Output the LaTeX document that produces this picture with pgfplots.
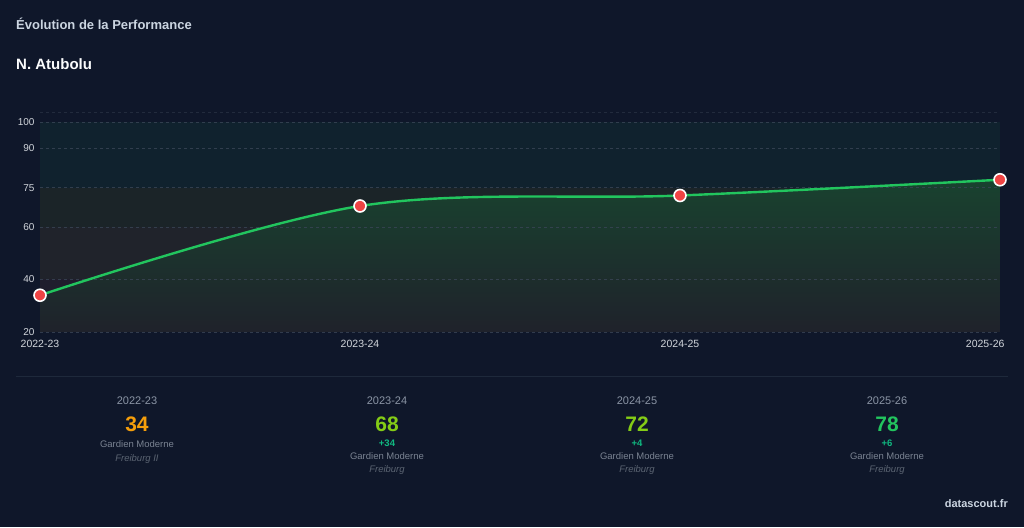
\documentclass[border=0pt]{standalone}
\usepackage{pgfplots}
\pgfplotsset{compat=1.18}
\usepackage{fontspec}
\setmainfont{Liberation Sans}
\definecolor{bg}{HTML}{0F172A}
\definecolor{sep}{HTML}{1E293B}
\definecolor{lgreen}{HTML}{22C55E}
\definecolor{mred}{HTML}{EF4444}
\definecolor{orng}{HTML}{F59E0B}
\definecolor{lime}{HTML}{84CC16}
\definecolor{teal}{HTML}{10B981}
\definecolor{ttl}{HTML}{CBD5E1}
\definecolor{ticks}{HTML}{D1D5DB}
\definecolor{season}{HTML}{8B95A5}
\definecolor{role}{HTML}{7A8392}
\definecolor{team}{HTML}{5B6472}
\definecolor{bandA}{HTML}{10222E}
\definecolor{bandB}{HTML}{1B2428}
\definecolor{bandC}{HTML}{20232B}
\definecolor{bandD}{HTML}{201D2D}
\definecolor{gridc}{HTML}{3A4556}
\definecolor{filltop}{HTML}{19422F}
\definecolor{fillbot}{HTML}{1F222B}
\newcommand{\fs}[1]{\fontsize{#1}{#1}\selectfont}
\begin{document}
\begin{tikzpicture}
\fill[bg] (0pt,0pt) rectangle (1024pt,527pt);
\useasboundingbox (0pt,0pt) rectangle (1024pt,527pt);
\node[anchor=west, text=ttl, font=\fs{13}\bfseries, inner sep=0pt] at (16pt,503pt) {Évolution de la Performance};
\node[anchor=west, text=white!92!ttl, font=\fs{15}\bfseries, inner sep=0pt] at (16pt,463pt) {N. Atubolu};
\begin{axis}[
  at={(40pt,195pt)}, anchor=south west,
  scale only axis, width=960pt, height=210pt,
  xmin=0, xmax=3, ymin=20, ymax=100,
  xtick={0,1,2}, xticklabels={2022-23,2023-24,2024-25},
  extra x ticks={3}, extra x tick labels={2025-26},
  extra x tick style={xticklabel style={anchor=north east, xshift=8pt}},
  ytick={20,40,60,75,90,100},
  axis line style={draw=none},
  major tick length=0pt,
  tick label style={text=ticks, font=\fs{10}},
  xticklabel style={yshift=-5pt, font=\fs{10.5}},
  yticklabel style={xshift=-2pt},
  /pgf/number format/assume math mode=true,
  clip=false,
]
\addplot[draw=none, fill=bandA, forget plot] coordinates {(0,75) (3,75) (3,100) (0,100)} -- cycle;
\addplot[draw=none, fill=bandB, forget plot] coordinates {(0,60) (3,60) (3,75) (0,75)} -- cycle;
\addplot[draw=none, fill=bandC, forget plot] coordinates {(0,40) (3,40) (3,60) (0,60)} -- cycle;
\addplot[draw=none, fill=bandD, forget plot] coordinates {(0,20) (3,20) (3,40) (0,40)} -- cycle;
\addplot[draw=none, top color=filltop, bottom color=fillbot, smooth, tension=0.55] coordinates {(0,34) (1,68) (2,72) (3,78)} \closedcycle;
\foreach \v in {20,40,60,75,90,100}{
  \edef\tmp{\noexpand\draw[gridc, dash pattern=on 3pt off 3pt, line width=0.6pt, opacity=0.8] (axis cs:0,\v) -- (axis cs:3,\v);}
  \tmp
}
\draw[gridc, dash pattern=on 3pt off 3pt, line width=0.6pt, opacity=0.45] (axis cs:0,103.8) -- (axis cs:3,103.8);
\addplot[lgreen, line width=2.4pt, smooth, tension=0.55, mark=*, mark size=6pt,
  mark options={fill=mred, draw=white, line width=1.6pt}] coordinates {(0,34) (1,68) (2,72) (3,78)};
\end{axis}
\draw[sep, line width=1pt] (16pt,150pt) -- (1008pt,150pt);
\foreach \x/\s in {137/2022-23,387/2023-24,637/2024-25,887/2025-26}{
  \node[text=season, font=\fs{11}, inner sep=0pt] at (\x pt,126pt) {\s};
}
\node[text=orng, font=\fs{21}\bfseries, inner sep=0pt] at (137pt,103pt) {34};
\node[text=lime, font=\fs{21}\bfseries, inner sep=0pt] at (387pt,103pt) {68};
\node[text=lime, font=\fs{21}\bfseries, inner sep=0pt] at (637pt,103pt) {72};
\node[text=lgreen, font=\fs{21}\bfseries, inner sep=0pt] at (887pt,103pt) {78};
\node[text=teal, font=\fs{9.5}\bfseries, inner sep=0pt] at (387pt,84pt) {+34};
\node[text=teal, font=\fs{9.5}\bfseries, inner sep=0pt] at (637pt,84pt) {+4};
\node[text=teal, font=\fs{9.5}\bfseries, inner sep=0pt] at (887pt,84pt) {+6};
\node[text=role, font=\fs{9.5}, inner sep=0pt] at (137pt,83pt) {Gardien Moderne};
\node[text=team, font=\fs{9.5}\itshape, inner sep=0pt] at (137pt,68pt) {Freiburg II};
\foreach \x in {387,637,887}{
  \node[text=role, font=\fs{9.5}, inner sep=0pt] at (\x pt,71pt) {Gardien Moderne};
  \node[text=team, font=\fs{9.5}\itshape, inner sep=0pt] at (\x pt,57pt) {Freiburg};
}
\node[anchor=east, text=ttl, font=\fs{11}\bfseries, inner sep=0pt] at (1008pt,23pt) {datascout.fr};
\end{tikzpicture}
\end{document}
